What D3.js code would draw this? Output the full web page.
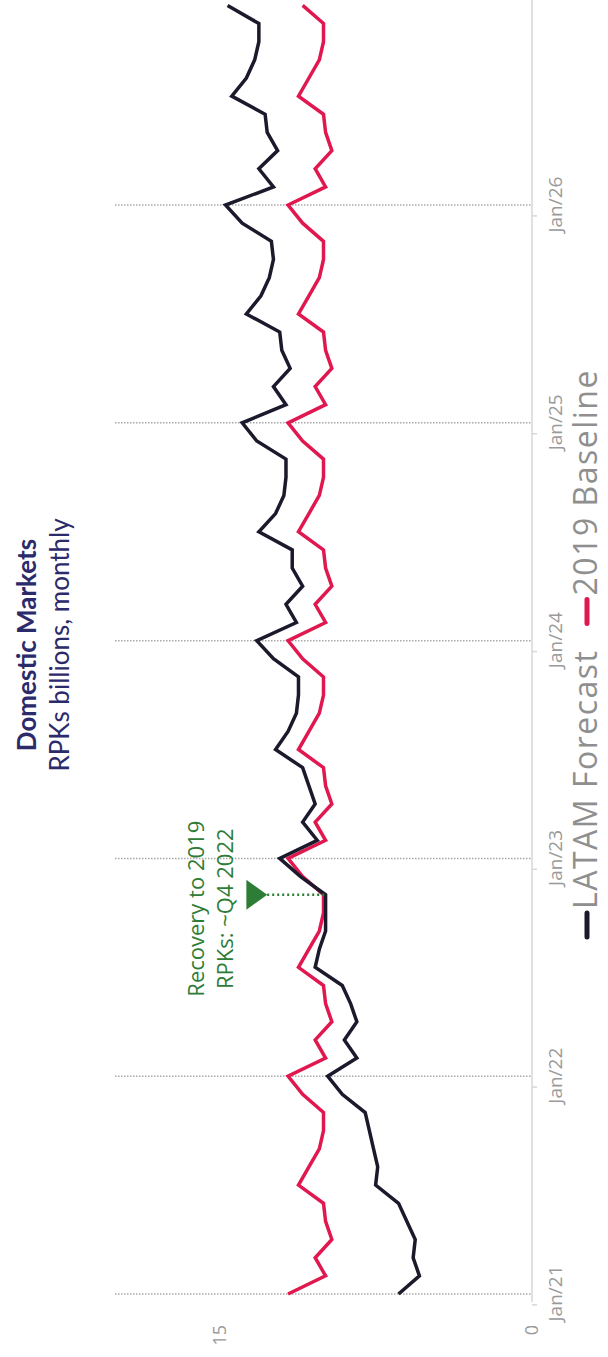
<!DOCTYPE html>
<html>
<head>
<meta charset="utf-8">
<script src="https://cdn.jsdelivr.net/npm/d3@7"></script>
<style>
  body { margin: 0; background: #fff; }
  text { font-family: "Open Sans", sans-serif; }
</style>
</head>
<body>
<svg width="608" height="1357"></svg>
<script>
// chart is drawn upright in a 1357 x 608 frame, then turned a quarter turn to the left

var tickMonths = [0, 12, 24, 36, 48, 60];
var tickLabels = ["Jan/21", "Jan/22", "Jan/23", "Jan/24", "Jan/25", "Jan/26"];
var valueTicks = [0, 15];

// LATAM forecast, RPKs billions, Jan/21 .. Dec/26
var latam = [
  6.4, 5.4, 5.7, 5.6, 6.0, 6.4, 7.5, 7.4, 7.6, 7.8, 8.0, 9.1,
  9.8, 8.4, 9.0, 8.4, 8.7, 9.1, 10.4, 10.2, 9.9, 9.9, 9.9, 11.1,
  12.1, 10.3, 11.0, 10.4, 10.7, 11.0, 12.3, 11.7, 11.3, 11.2, 11.2, 12.4,
  13.2, 11.3, 11.8, 11.0, 11.5, 11.5, 13.1, 12.3, 11.9, 11.8, 11.8, 13.2,
  13.9, 11.8, 12.4, 11.6, 12.0, 12.1, 13.7, 13.0, 12.6, 12.4, 12.5, 13.9,
  14.7, 12.4, 13.1, 12.2, 12.7, 12.8, 14.4, 13.7, 13.3, 13.1, 13.1, 14.6
];

// 2019 baseline, same months
var baseline = [
  11.7, 9.9, 10.4, 9.6, 9.9, 10.0, 11.2, 10.7, 10.2, 10.0, 10.0, 11.0,
  11.7, 9.9, 10.4, 9.6, 9.9, 10.0, 11.2, 10.7, 10.2, 10.0, 10.0, 11.0,
  11.7, 9.9, 10.4, 9.6, 9.9, 10.0, 11.2, 10.7, 10.2, 10.0, 10.0, 11.0,
  11.7, 9.9, 10.4, 9.6, 9.9, 10.0, 11.2, 10.7, 10.2, 10.0, 10.0, 11.0,
  11.7, 9.9, 10.4, 9.6, 9.9, 10.0, 11.2, 10.7, 10.2, 10.0, 10.0, 11.0,
  11.7, 9.9, 10.4, 9.6, 9.9, 10.0, 11.2, 10.7, 10.2, 10.0, 10.0, 11.0
];

var recoveryMonth = 22;   // Nov/22

var W = 1357, H = 608;
var navy = "#2b2a6b", black = "#1b1a2c", red = "#e0184f", green = "#2e7d36", grey = "#8f8f8f";

var svg = d3.select("svg");
var g = svg.append("g").attr("transform", "translate(0," + W + ") rotate(-90)");

var x = d3.scaleLinear().domain([0, 71]).range([63, 1351.6]);
var y = d3.scaleLinear().domain([0, 20]).range([532, 115]);

// title
g.append("text")
    .attr("x", 712).attr("y", 36)
    .attr("text-anchor", "middle")
    .style("font-family", "Lato, sans-serif")
    .style("font-weight", "bold")
    .style("font-size", "26px")
    .attr("fill", navy)
    .text("Domestic Markets");
g.append("text")
    .attr("x", 712).attr("y", 69)
    .attr("text-anchor", "middle")
    .style("font-family", "Lato, sans-serif")
    .style("font-size", "26px")
    .attr("fill", navy)
    .text("RPKs billions, monthly");

// dotted gridlines at each January
g.append("g")
    .selectAll("line")
    .data(tickMonths)
    .enter().append("line")
    .attr("x1", function (d) { return x(d); })
    .attr("x2", function (d) { return x(d); })
    .attr("y1", y(20))
    .attr("y2", y(0))
    .attr("stroke", "#a8a8a8")
    .attr("stroke-width", 1.5)
    .attr("stroke-dasharray", "1.5,1.5");

// time axis
g.append("line")
    .attr("x1", x(-0.45)).attr("x2", W)
    .attr("y1", y(0)).attr("y2", y(0))
    .attr("stroke", "#d6d6d6")
    .attr("stroke-width", 1.5);

var xAxis = g.append("g")
    .attr("transform", "translate(0," + y(0) + ")")
    .call(d3.axisBottom(x)
        .tickValues(tickMonths)
        .tickSize(0)
        .tickFormat(function (d, i) { return tickLabels[i]; }));
xAxis.select(".domain").remove();
xAxis.selectAll("text")
    .attr("y", 30).attr("dy", 0)
    .style("font-size", "19px")
    .attr("fill", "#9a9a9a");

// small tick marks, set a little before each January
g.append("g")
    .selectAll("line")
    .data(tickMonths)
    .enter().append("line")
    .attr("x1", function (d) { return x(d - 0.6); })
    .attr("x2", function (d) { return x(d - 0.6); })
    .attr("y1", y(0))
    .attr("y2", y(0) + 5)
    .attr("stroke", "#d6d6d6")
    .attr("stroke-width", 1.5);

// value axis labels
var yAxis = g.append("g")
    .attr("transform", "translate(40,0)")
    .call(d3.axisLeft(y).tickValues(valueTicks).tickSize(0).tickPadding(8));
yAxis.select(".domain").remove();
yAxis.selectAll("text")
    .style("font-size", "18px")
    .attr("fill", "#9a9a9a");

// lines
var line = d3.line()
    .x(function (d, i) { return x(i); })
    .y(function (d) { return y(d); });

g.append("path")
    .datum(baseline)
    .attr("d", line)
    .attr("fill", "none")
    .attr("stroke", red)
    .attr("stroke-width", 3.5);

g.append("path")
    .datum(latam)
    .attr("d", line)
    .attr("fill", "none")
    .attr("stroke", black)
    .attr("stroke-width", 3.5);

// recovery annotation
var ax = x(recoveryMonth);
g.append("line")
    .attr("x1", ax).attr("x2", ax)
    .attr("y1", y(12.7)).attr("y2", y(latam[recoveryMonth]))
    .attr("stroke", green)
    .attr("stroke-width", 2.5)
    .attr("stroke-dasharray", "2,3");
g.append("path")
    .attr("d", "M" + (ax - 15) + "," + y(13.7) + "L" + (ax + 15) + "," + y(13.7) + "L" + ax + "," + y(12.7) + "Z")
    .attr("fill", green);
g.append("text")
    .attr("x", ax - 14).attr("y", 204)
    .attr("text-anchor", "middle")
    .style("font-size", "22px")
    .attr("fill", green)
    .text("Recovery to 2019");
g.append("text")
    .attr("x", ax - 14).attr("y", 233)
    .attr("text-anchor", "middle")
    .style("font-size", "22px")
    .attr("fill", green)
    .text("RPKs: ~Q4 2022");

// legend, centred under the plot
var legendItems = [
    { name: "LATAM Forecast", color: black },
    { name: "2019 Baseline", color: red }
];
var legend = g.append("g");
var lx = 0;
legendItems.forEach(function (item) {
    legend.append("line")
        .attr("x1", lx).attr("x2", lx + 24)
        .attr("y1", 587).attr("y2", 587)
        .attr("stroke", item.color)
        .attr("stroke-width", 5)
        .attr("stroke-linecap", "round");
    var t = legend.append("text")
        .attr("x", lx + 28).attr("y", 597)
        .style("font-size", "32px")
        .style("letter-spacing", "1.5px")
        .attr("fill", grey)
        .text(item.name);
    lx += 28 + t.node().getComputedTextLength() + 26;
});
lx -= 26;
legend.attr("transform", "translate(" + (704 - lx / 2) + ",0)");
</script>
</body>
</html>
